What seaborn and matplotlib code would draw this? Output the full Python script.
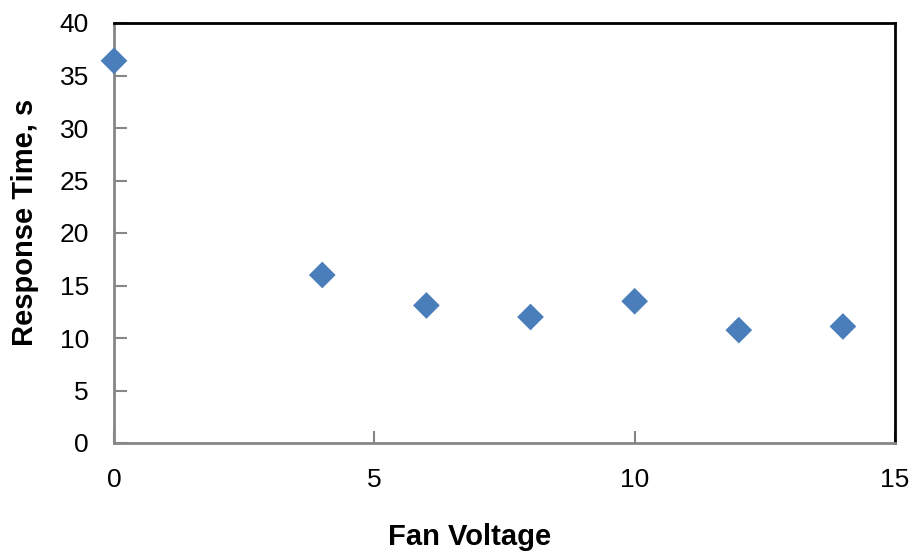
import matplotlib
matplotlib.use("Agg")
import matplotlib.pyplot as plt
import seaborn as sns
import pandas as pd

fan_voltage = [0, 4, 6, 8, 10, 12, 14]
response_time = [36.4, 16.0, 13.1, 12.0, 13.5, 10.75, 11.1]

sns.set_style("white")
plt.rcParams['font.family'] = ['Liberation Sans', 'DejaVu Sans']

df = pd.DataFrame({"Fan Voltage": fan_voltage, "Response Time, s": response_time})

fig = plt.figure(figsize=(9.14, 5.52), dpi=100)
ax = fig.add_axes([114/914, 1-443/552, (895-114)/914, (443-23)/552])
sns.scatterplot(data=df, x="Fan Voltage", y="Response Time, s", ax=ax,
                marker="D", s=185, color="#4a7ebb", edgecolor="none", zorder=3,
                clip_on=False)

ax.set_xlim(0, 15)
ax.set_ylim(0, 40)
ax.set_xticks([0, 5, 10, 15])
ax.set_yticks(range(0, 41, 5))
ax.tick_params(axis='both', which='major', direction='in', length=9, width=1.5,
               color='#868686', labelsize=19, labelcolor='black',
               bottom=True, left=True, top=False, right=False)
ax.tick_params(axis='x', pad=18)
ax.tick_params(axis='y', pad=18)
for side in ['left', 'bottom']:
    ax.spines[side].set_color('#868686')
    ax.spines[side].set_linewidth(2)
for side in ['top', 'right']:
    ax.spines[side].set_color('black')
    ax.spines[side].set_linewidth(2)
    ax.spines[side].set_visible(True)

ax.set_xlabel("Fan Voltage", fontsize=21, fontweight='bold', va='center', ha='center',
              color='black')
ax.set_ylabel("Response Time, s", fontsize=21, fontweight='bold', va='center', ha='center',
              color='black')
ax.xaxis.set_label_coords((470-114)/781, (443-537)/420)
ax.yaxis.set_label_coords((25-114)/781, (443-222)/420)

fig.savefig("out.png", dpi=100)
